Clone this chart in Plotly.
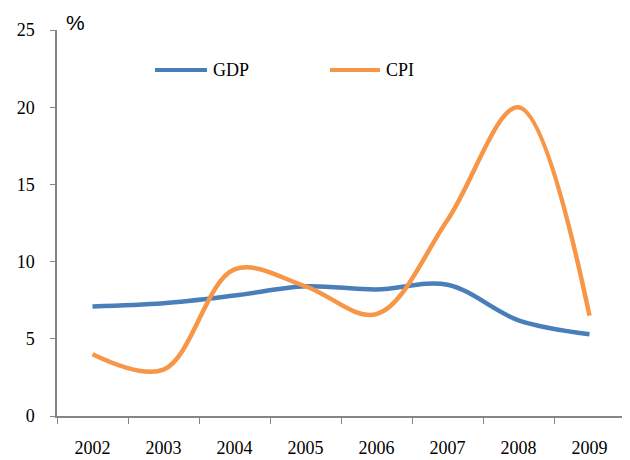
import plotly.graph_objects as go

years = ["2002", "2003", "2004", "2005", "2006", "2007", "2008", "2009"]
gdp = [7.1, 7.3, 7.8, 8.4, 8.2, 8.5, 6.2, 5.3]
cpi = [4.0, 3.0, 9.5, 8.4, 6.6, 12.7, 20.0, 6.5]
series_names = ["GDP", "CPI"]
series_colors = ["#4A7EBB", "#F79646"]

# page pixel geometry of the plot area (page has 8px body margin)
PX0, PX1, PY0, PY1 = 57, 625, 30, 416


def px(x):
    return (x - PX0) / (PX1 - PX0)


def py(y):
    return (PY1 - y) / (PY1 - PY0)


fig = go.Figure()
for name, vals, col in zip(series_names, [gdp, cpi], series_colors):
    fig.add_trace(go.Scatter(x=years, y=vals, name=name, mode="lines", showlegend=False,
                             line=dict(color=col, width=4.5, shape="spline", smoothing=1)))

# manual legend (long line samples like the reference)
legend_pos = [(155, 207), (330, 380)]
shapes, annots = [], []
for name, col, (x0, x1) in zip(series_names, series_colors, legend_pos):
    shapes.append(dict(type="line", xref="paper", yref="paper", x0=px(x0), x1=px(x1),
                       y0=py(70), y1=py(70), line=dict(color=col, width=4)))
    annots.append(dict(text=name, x=px(x1 + 4), y=py(70), xref="paper", yref="paper",
                       xanchor="left", yanchor="middle", showarrow=False,
                       font=dict(size=18)))
annots.append(dict(text="%", x=px(75), y=py(8.5), xref="paper", yref="paper",
                   xanchor="center", yanchor="top", showarrow=False,
                   font=dict(family="Liberation Sans, Arial, sans-serif", size=21)))

fig.update_layout(
    width=622, height=452,
    margin=dict(l=49, r=5, t=22, b=44, autoexpand=False),
    paper_bgcolor="white", plot_bgcolor="white",
    font=dict(family="Liberation Serif, Times New Roman, serif", size=18, color="black"),
    showlegend=False,
    xaxis=dict(type="category", range=[-0.5, 7.5], showline=True, linecolor="#868686",
               linewidth=1.5, ticks="outside", tickson="boundaries", ticklen=6,
               tickcolor="#868686", showgrid=False, ticklabelstandoff=15, zeroline=False,
               automargin=False),
    yaxis=dict(range=[0, 25], dtick=5, showline=True, linecolor="#868686", linewidth=1.5,
               ticks="outside", ticklen=5, tickcolor="#868686", showgrid=False,
               ticklabelstandoff=12, zeroline=False, automargin=False),
    shapes=shapes,
    annotations=annots,
)

fig.write_html("out.html")
